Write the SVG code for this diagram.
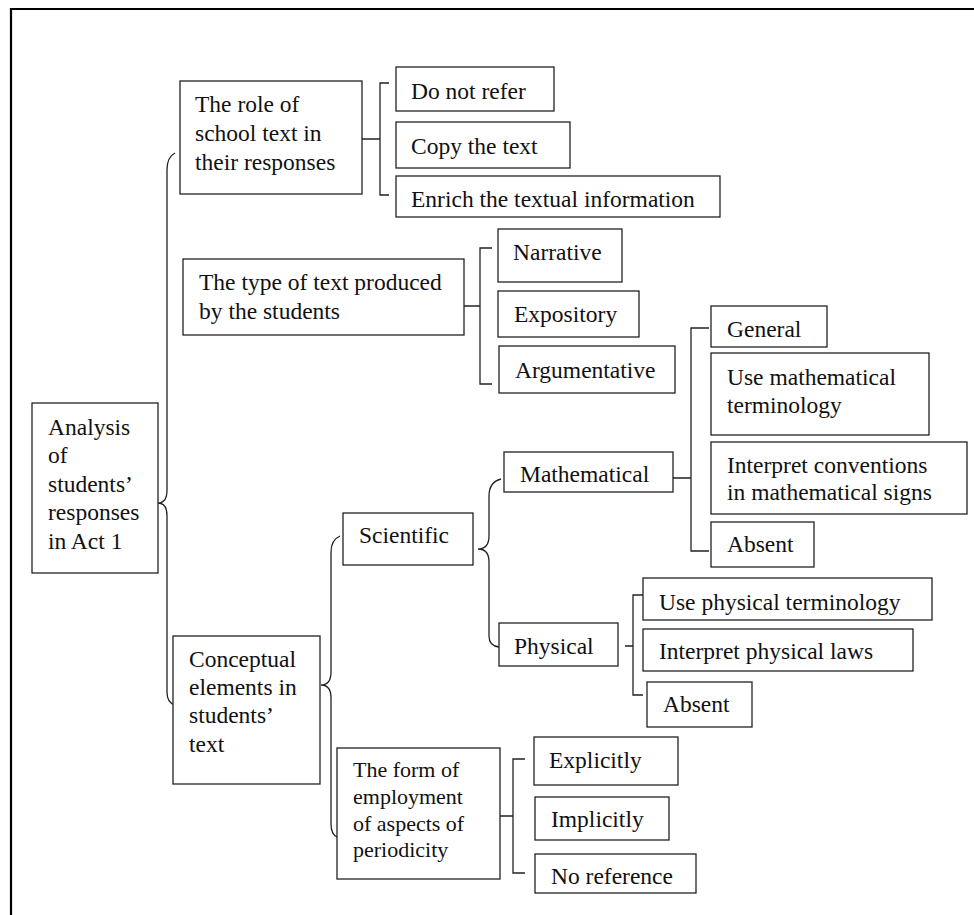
<svg xmlns="http://www.w3.org/2000/svg" width="974" height="915" viewBox="0 0 974 915">
<style>
.box{fill:#fff;stroke:#222;stroke-width:1.3}
.t{font-family:"Liberation Serif","Times New Roman",serif;font-size:23.5px;fill:#111}
.s{font-size:22px}
.c{fill:none;stroke:#222;stroke-width:1.3}
.frame{fill:none;stroke:#000;stroke-width:2.2}
</style>
<rect width="974" height="915" fill="#fff"/>
<path class="frame" d="M11,915 L11,9 L974,9"/>
<g id="connectors">
<path class="c" d="M175,153 Q167,157 167,170 L167,490 Q167,503 158,503 Q167,503 167,516 L167,692 Q167,703 175,705"/>
<path class="c" d="M362,139 L380,139 M389,83 L380,83 L380,195 L389,195"/>
<path class="c" d="M464,306 L480,306 M492,248 L480,248 L480,384 L492,384"/>
<path class="c" d="M501,479 Q489,482 489,496 L489,536 Q489,549 478,549 Q489,549 489,562 L489,636 Q489,646 499,647"/>
<path class="c" d="M673,478 L691,478 M709,328 L691,328 L691,551 L709,551"/>
<path class="c" d="M625,646 L633,646 M643,595 L633,595 L633,695 L643,695"/>
<path class="c" d="M340,536 Q331,540 331,552 L331,672 Q331,685 321,685 Q331,685 331,698 L331,824 Q331,834 337,837"/>
<path class="c" d="M500,816 L513,816 M525,759 L513,759 L513,873 L525,873"/>
</g>
<g id="analysis"><rect class="box" x="32" y="403" width="126" height="170"/>
<text class="t" x="48" y="435">Analysis</text><text class="t" x="48" y="463">of</text><text class="t" x="48" y="492">students’</text><text class="t" x="48" y="520">responses</text><text class="t" x="48" y="549">in Act 1</text></g>
<g id="role"><rect class="box" x="180" y="81" width="182" height="113"/>
<text class="t" x="195" y="112">The role of</text><text class="t" x="195" y="141">school text in</text><text class="t" x="195" y="170">their responses</text></g>
<g id="donotrefer"><rect class="box" x="396" y="67" width="158" height="44"/><text class="t" x="411" y="99">Do not refer</text></g>
<g id="copy"><rect class="box" x="396" y="122" width="174" height="46"/><text class="t" x="411" y="154">Copy the text</text></g>
<g id="enrich"><rect class="box" x="396" y="176" width="324" height="41"/><text class="t" x="411" y="207">Enrich the textual information</text></g>
<g id="type"><rect class="box" x="183" y="259" width="281" height="76"/>
<text class="t" x="199" y="290">The type of text produced</text><text class="t" x="199" y="319">by the students</text></g>
<g id="narrative"><rect class="box" x="498" y="229" width="124" height="53"/><text class="t" x="513" y="260">Narrative</text></g>
<g id="expository"><rect class="box" x="498" y="291" width="141" height="46"/><text class="t" x="514" y="322">Expository</text></g>
<g id="argumentative"><rect class="box" x="499" y="346" width="176" height="47"/><text class="t" x="515" y="378">Argumentative</text></g>
<g id="mathematical"><rect class="box" x="504" y="452" width="169" height="40"/><text class="t" x="520" y="482">Mathematical</text></g>
<g id="general"><rect class="box" x="711" y="306" width="116" height="41"/><text class="t" x="727" y="337">General</text></g>
<g id="usemath"><rect class="box" x="711" y="353" width="218" height="82"/><text class="t" x="727" y="385">Use mathematical</text><text class="t" x="727" y="413">terminology</text></g>
<g id="interpretconv"><rect class="box" x="711" y="442" width="256" height="72"/><text class="t" x="727" y="473">Interpret conventions</text><text class="t" x="727" y="500">in mathematical signs</text></g>
<g id="absentmath"><rect class="box" x="711" y="522" width="103" height="45"/><text class="t" x="727" y="552">Absent</text></g>
<g id="scientific"><rect class="box" x="343" y="513" width="130" height="52"/><text class="t" x="359" y="543">Scientific</text></g>
<g id="physical"><rect class="box" x="499" y="623" width="119" height="43"/><text class="t" x="514" y="654">Physical</text></g>
<g id="usephys"><rect class="box" x="643" y="578" width="289" height="42"/><text class="t" x="659" y="610">Use physical terminology</text></g>
<g id="interpretphys"><rect class="box" x="643" y="629" width="270" height="42"/><text class="t" x="659" y="659">Interpret physical laws</text></g>
<g id="absentphys"><rect class="box" x="647" y="682" width="105" height="45"/><text class="t" x="663" y="712">Absent</text></g>
<g id="conceptual"><rect class="box" x="173" y="636" width="147" height="148"/>
<text class="t" x="189" y="667">Conceptual</text><text class="t" x="189" y="695">elements in</text><text class="t" x="189" y="723">students’</text><text class="t" x="189" y="752">text</text></g>
<g id="form"><rect class="box" x="337" y="748" width="163" height="131"/>
<text class="t s" x="353" y="777">The form of</text><text class="t s" x="353" y="804">employment</text><text class="t s" x="353" y="831">of aspects of</text><text class="t s" x="353" y="857">periodicity</text></g>
<g id="explicitly"><rect class="box" x="534" y="737" width="144" height="48"/><text class="t" x="549" y="768">Explicitly</text></g>
<g id="implicitly"><rect class="box" x="535" y="797" width="134" height="43"/><text class="t" x="551" y="827">Implicitly</text></g>
<g id="noreference"><rect class="box" x="535" y="854" width="161" height="39"/><text class="t" x="551" y="884">No reference</text></g>
</svg>
